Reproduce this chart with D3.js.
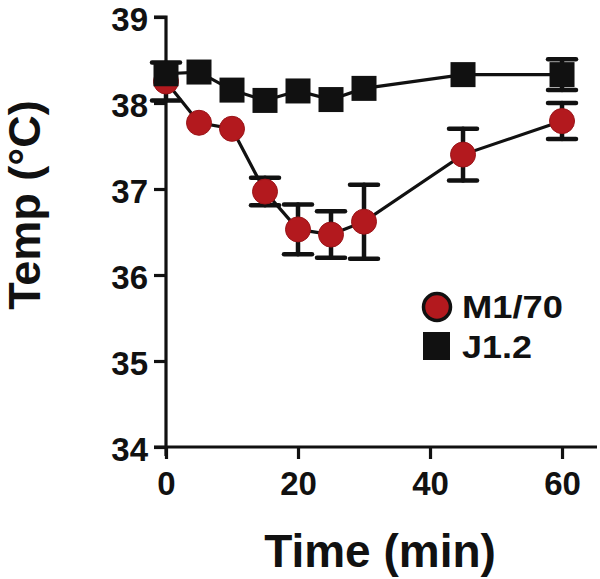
<!DOCTYPE html>
<html><head><meta charset="utf-8">
<script src="https://cdn.jsdelivr.net/npm/d3@7"></script>
<style>body{margin:0;background:#fff}svg{display:block}</style>
</head><body>
<script>
const times = [0, 5, 10, 15, 20, 25, 30, 45, 60];
const m170Mean = [38.25, 37.77, 37.70, 36.97, 36.53, 36.47, 36.62, 37.40, 37.79];
const m170Err  = [0.22, 0, 0, 0.16, 0.29, 0.27, 0.43, 0.30, 0.21];
const j12Mean  = [38.34, 38.36, 38.15, 38.03, 38.14, 38.04, 38.17, 38.33, 38.33];
const j12Err   = [0, 0, 0, 0, 0, 0, 0, 0, 0.18];
const yTicks = [34, 35, 36, 37, 38, 39];
const xTicks = [0, 20, 40, 60];
const seriesNames = ["M1/70", "J1.2"];

const W = 600, H = 579;
const svg = d3.select("body").append("svg").attr("width", W).attr("height", H);
const font = "'Liberation Sans', Arial, Helvetica, sans-serif";

const x = d3.scaleLinear().domain([0, 65.3]).range([166, 597]);
const y = d3.scaleLinear().domain([34, 39]).range([447, 17]);

// axes
const yAxis = d3.axisLeft(y).tickValues(yTicks).tickSize(12).tickPadding(6).tickFormat(d3.format("d"));
const gy = svg.append("g").attr("transform", `translate(${x(0)},0)`).call(yAxis);
gy.select(".domain").attr("d", `M-12,${y(39)}H0V${y(34) + 9}`);
const gx = svg.append("g").attr("transform", `translate(0,${y(34)})`)
  .call(d3.axisBottom(x).tickValues(xTicks).tickSize(12).tickPadding(10).tickFormat(d3.format("d")));
gx.select(".domain").attr("d", `M${x(0) - 12},0H${x.range()[1]}`);
[gx, gy].forEach(g => {
  g.selectAll("path, line").attr("stroke", "#111").attr("stroke-width", 3.2);
  g.selectAll("text").attr("font-family", font).attr("font-weight", "bold")
    .attr("font-size", 33).attr("fill", "#111");
});
gy.selectAll("text").attr("dy", "0.40em");
gx.selectAll("text").attr("dy", "0.78em");

// titles
svg.append("text").attr("x", 380).attr("y", 567).attr("text-anchor", "middle")
  .attr("font-family", font).attr("font-weight", "bold").attr("font-size", 46).attr("fill", "#111")
  .text("Time (min)");
svg.append("text").attr("transform", "translate(40,205) rotate(-90)").attr("text-anchor", "middle")
  .attr("font-family", font).attr("font-weight", "bold").attr("font-size", 45).attr("fill", "#111")
  .text("Temp (°C)");

const line = d3.line().x(d => x(d.t)).y(d => y(d.v));
const m170 = times.map((t, i) => ({t, v: m170Mean[i], e: m170Err[i]}));
const j12 = times.map((t, i) => ({t, v: j12Mean[i], e: j12Err[i]}));

function errBars(data) {
  const g = svg.append("g").attr("stroke", "#111").attr("stroke-width", 4.5).attr("stroke-linecap", "round");
  data.filter(d => d.e > 0).forEach(d => {
    g.append("line").attr("x1", x(d.t)).attr("x2", x(d.t)).attr("y1", y(d.v - d.e)).attr("y2", y(d.v + d.e));
    [d.v - d.e, d.v + d.e].forEach(v => {
      g.append("line").attr("x1", x(d.t) - 14).attr("x2", x(d.t) + 14).attr("y1", y(v)).attr("y2", y(v));
    });
  });
}

// M1/70 series
errBars(m170);
svg.append("path").datum(m170).attr("d", line).attr("fill", "none").attr("stroke", "#111").attr("stroke-width", 3.2);
svg.append("g").selectAll("circle").data(m170).join("circle")
  .attr("cx", d => x(d.t)).attr("cy", d => y(d.v)).attr("r", 12.5)
  .attr("fill", "#B3191E").attr("stroke", "#9a1418").attr("stroke-width", 1);

// J1.2 series
errBars(j12);
svg.append("path").datum(j12).attr("d", line).attr("fill", "none").attr("stroke", "#111").attr("stroke-width", 3.2);
svg.append("g").selectAll("rect").data(j12).join("rect")
  .attr("x", d => x(d.t) - 12.5).attr("y", d => y(d.v) - 12.5).attr("width", 25).attr("height", 25)
  .attr("fill", "#111");

// legend
const lg = svg.append("g");
lg.append("circle").attr("cx", 437).attr("cy", 307).attr("r", 13.5)
  .attr("fill", "#B3191E").attr("stroke", "#111").attr("stroke-width", 3.5);
lg.append("rect").attr("x", 423).attr("y", 332).attr("width", 27).attr("height", 28).attr("fill", "#111");
lg.append("text").attr("x", 462).attr("y", 318).attr("font-family", font).attr("font-weight", "bold")
  .attr("font-size", 31).attr("fill", "#111").attr("textLength", 101).attr("lengthAdjust", "spacingAndGlyphs")
  .text(seriesNames[0]);
lg.append("text").attr("x", 462).attr("y", 358).attr("font-family", font).attr("font-weight", "bold")
  .attr("font-size", 31).attr("fill", "#111").attr("textLength", 70).attr("lengthAdjust", "spacingAndGlyphs")
  .text(seriesNames[1]);
</script>
</body></html>
